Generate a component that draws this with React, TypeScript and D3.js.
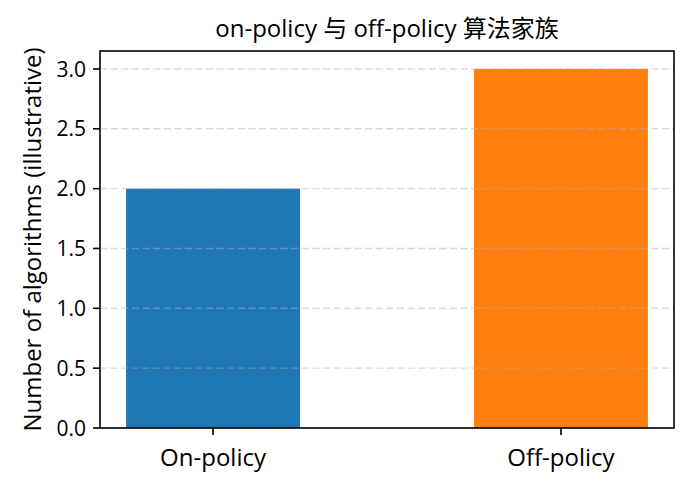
import React from "react";
import * as d3 from "d3";

const categories = ["On-policy", "Off-policy"];
const values = [2, 3];
const colors = ["#1f77b4", "#ff7f0e"];
const yTicks = [0, 0.5, 1.0, 1.5, 2.0, 2.5, 3.0];
const title = "on-policy 与 off-policy 算法家族";
const yLabel = "Number of algorithms (illustrative)";

const W = 691;
const H = 487;
const m = { left: 100, right: 17, top: 51, bottom: 59 };
const FONT = "'Open Sans', 'Noto Sans CJK SC', sans-serif";

export default function App() {
  const barW = 0.5;
  const lo = -barW / 2;
  const hi = categories.length - 1 + barW / 2;
  const pad = (hi - lo) * 0.05;
  const x = d3.scaleLinear().domain([lo - pad, hi + pad]).range([m.left, W - m.right]);
  const yMax = d3.max(values)! * 1.05;
  const y = d3.scaleLinear().domain([0, yMax]).range([H - m.bottom, m.top]);
  const x0 = m.left, x1 = W - m.right, y0 = H - m.bottom, y1 = m.top;

  return (
    <svg width={W} height={H} style={{ position: "absolute", left: 0, top: 0, background: "#fff" }}>
      <rect x={0} y={0} width={W} height={H} fill="#fff" />
      {values.map((v, i) => (
        <rect
          key={i}
          x={x(i - barW / 2)}
          width={x(i + barW / 2) - x(i - barW / 2)}
          y={y(v)}
          height={y(0) - y(v)}
          fill={colors[i]}
        />
      ))}
      {yTicks.map((t) => (
        <line
          key={"g" + t}
          x1={x0}
          x2={x1}
          y1={y(t)}
          y2={y(t)}
          stroke="#b0b0b0"
          strokeOpacity={0.45}
          strokeWidth={1.4}
          strokeDasharray="7.4,3.2"
        />
      ))}
      <rect x={x0} y={y1} width={x1 - x0} height={y0 - y1} fill="none" stroke="#000" strokeWidth={1.6} />
      {yTicks.map((t) => (
        <g key={"t" + t}>
          <line x1={x0 - 7} x2={x0} y1={y(t)} y2={y(t)} stroke="#000" strokeWidth={1.6} />
          <text
            x={x0 - 14}
            y={y(t)}
            dy="0.36em"
            textAnchor="end"
            fontFamily={FONT}
            fontSize={21}
            fill="#000"
          >
            {t.toFixed(1)}
          </text>
        </g>
      ))}
      {categories.map((c, i) => (
        <g key={c}>
          <line x1={x(i)} x2={x(i)} y1={y0} y2={y0 + 7} stroke="#000" strokeWidth={1.6} />
          <text x={x(i)} y={y0 + 38} textAnchor="middle" fontFamily={FONT} fontSize={24} fill="#000">
            {c}
          </text>
        </g>
      ))}
      <text
        transform={`translate(41, ${(y0 + y1) / 2}) rotate(-90)`}
        textAnchor="middle"
        fontFamily={FONT}
        fontSize={24}
        fill="#000"
      >
        {yLabel}
      </text>
      <text x={(x0 + x1) / 2} y={37} textAnchor="middle" fontFamily={FONT} fontSize={24} fill="#000">
        {title}
      </text>
    </svg>
  );
}
